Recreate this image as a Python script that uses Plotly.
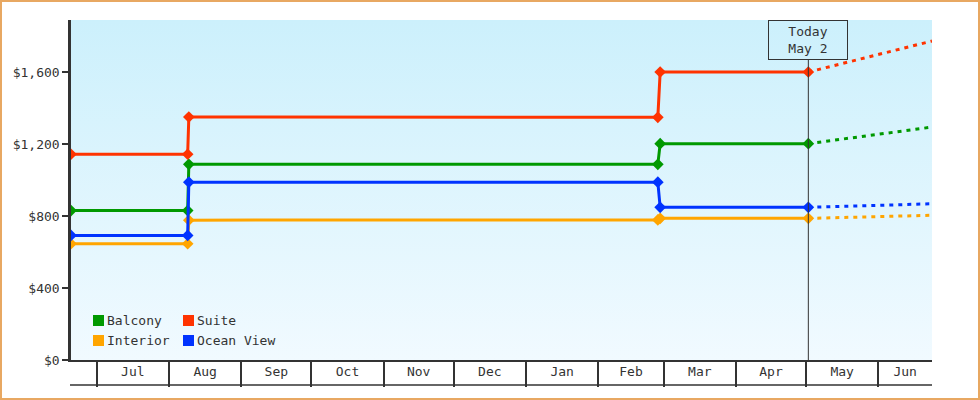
import base64
import pandas as pd
import plotly.graph_objects as go

# fare history (step points) and forecast
dates = ["2024-06-20", "2024-08-09 00:00", "2024-08-09 12:00",
         "2025-02-26 12:00", "2025-02-27 12:00", "2025-05-02"]
balcony = [830, 830, 1087, 1087, 1202, 1202]
suite = [1143, 1143, 1350, 1348, 1600, 1600]
interior = [646, 646, 777, 778, 787, 787]
ocean_view = [692, 692, 988, 988, 848, 848]

forecast_dates = ["2025-05-02", "2025-06-24"]
balcony_fc = [1202, 1294]
suite_fc = [1600, 1772]
interior_fc = [787, 804]
ocean_view_fc = [848, 868]

month_labels = ["Jul", "Aug", "Sep", "Oct", "Nov", "Dec",
                "Jan", "Feb", "Mar", "Apr", "May", "Jun"]
y_ticks = [0, 400, 800, 1200, 1600]
today = "2025-05-02"
today_label = "Today<br>May 2"

x_range = ["2024-06-20", "2025-06-24"]
y_range = [0, 1889]

colors = {"Balcony": "#009900", "Suite": "#ff3300",
          "Interior": "#ffa500", "Ocean View": "#0033ff"}
ink = "#333333"
font = dict(family="DejaVu Sans Mono", size=13, color=ink)

W, H = 980, 400
L, R, T, B = 71, 48, 20, 40
pw, ph = W - L - R, H - T - B


def px_x(p):
    return (p - L) / pw


def px_y(p):
    return (H - B - p) / ph


series = [("Balcony", balcony, balcony_fc),
          ("Suite", suite, suite_fc),
          ("Interior", interior, interior_fc),
          ("Ocean View", ocean_view, ocean_view_fc)]

fig = go.Figure()
for name, hist, fc in series:
    c = colors[name]
    fig.add_trace(go.Scatter(x=dates, y=hist, mode="lines+markers", name=name,
                             line=dict(color=c, width=3),
                             marker=dict(symbol="diamond", size=9, color=c)))
    fig.add_trace(go.Scatter(x=forecast_dates, y=fc, mode="lines", name=name + " forecast",
                             line=dict(color=c, width=3, dash="4px,5px")))

# month boundaries and visible midpoints for labels
starts = pd.date_range("2024-07-01", periods=12, freq="MS")
lo, hi = pd.Timestamp(x_range[0]), pd.Timestamp(x_range[1])
mids = []
for s in starts:
    a = max(s, lo)
    b = min(s + pd.offsets.MonthBegin(1), hi)
    mids.append(a + (b - a) / 2)
# dummy trace so the label axis gets drawn
fig.add_trace(go.Scatter(x=[None], y=[None], xaxis="x2", hoverinfo="skip"))

svg = ('<svg xmlns="http://www.w3.org/2000/svg" width="10" height="100" '
       'viewBox="0 0 10 100" preserveAspectRatio="none"><defs>'
       '<linearGradient id="g" x1="0" y1="0" x2="0" y2="1">'
       '<stop offset="0" stop-color="#ccf0fc"/>'
       '<stop offset="1" stop-color="#f1faff"/></linearGradient></defs>'
       '<rect width="10" height="100" fill="url(#g)"/></svg>')
bg_src = "data:image/svg+xml;base64," + base64.b64encode(svg.encode()).decode()

fig.update_layout(
    width=W, height=H,
    margin=dict(l=L, r=R, t=T, b=B),
    paper_bgcolor="white", plot_bgcolor="rgba(0,0,0,0)",
    font=font, showlegend=False,
    images=[dict(source=bg_src, xref="paper", yref="paper", x=0, y=1,
                 sizex=1, sizey=1, xanchor="left", yanchor="top",
                 sizing="stretch", layer="below")],
    xaxis=dict(type="date", range=x_range, tickvals=starts, showticklabels=False,
               ticks="outside", ticklen=25, tickwidth=1.5, tickcolor=ink,
               showline=True, linewidth=1.5, linecolor=ink,
               showgrid=False, zeroline=False),
    xaxis2=dict(type="date", range=x_range, overlaying="x", anchor="y", side="bottom",
                tickvals=mids, ticktext=month_labels, ticks="", showline=False,
                showgrid=False, zeroline=False, ticklabelstandoff=2,
                tickfont=font),
    yaxis=dict(range=y_range, tickvals=y_ticks,
               ticktext=["&#36;" + f"{v:,}" for v in y_ticks],
               ticks="outside", ticklen=6, tickwidth=2, tickcolor=ink,
               showline=True, linewidth=2.5, linecolor=ink,
               showgrid=False, zeroline=False, tickfont=font),
)

# legend: two rows of colour squares with names
legend_rows = [["Balcony", "Suite"], ["Interior", "Ocean View"]]
for r, row in enumerate(legend_rows):
    top = 315 + 20 * r
    for k, name in enumerate(row):
        left = 93 + 90 * k
        fig.add_shape(type="rect", xref="paper", yref="paper",
                      x0=px_x(left), x1=px_x(left + 11),
                      y0=px_y(top + 11), y1=px_y(top),
                      fillcolor=colors[name], line=dict(width=0))
        fig.add_annotation(x=px_x(left + 12), y=px_y(top + 5.5), xref="paper", yref="paper",
                           xanchor="left", yanchor="middle", text=name,
                           showarrow=False, font=font)

# box row bottom line under the month labels
fig.add_shape(type="line", xref="paper", yref="paper", x0=px_x(70), x1=1,
              y0=px_y(385), y1=px_y(385), line=dict(color=ink, width=1.5))
# today marker line below the label box
fig.add_shape(type="line", xref="x", yref="paper", x0=today, x1=today,
              y0=0, y1=px_y(60), line=dict(color=ink, width=1))
fig.add_annotation(x=today, xref="x", y=1, yref="paper", yanchor="top",
                   text=today_label, showarrow=False, font=font,
                   bordercolor=ink, borderwidth=1, borderpad=0,
                   width=78, height=38)
# outer frame
fig.add_shape(type="rect", xref="paper", yref="paper",
              x0=px_x(1), x1=px_x(W - 1), y0=px_y(H - 1), y1=px_y(1),
              line=dict(color="#e8a862", width=2))

fig.write_html("out.html", config={"displayModeBar": False},
               post_script="document.body.style.margin='0px';")
